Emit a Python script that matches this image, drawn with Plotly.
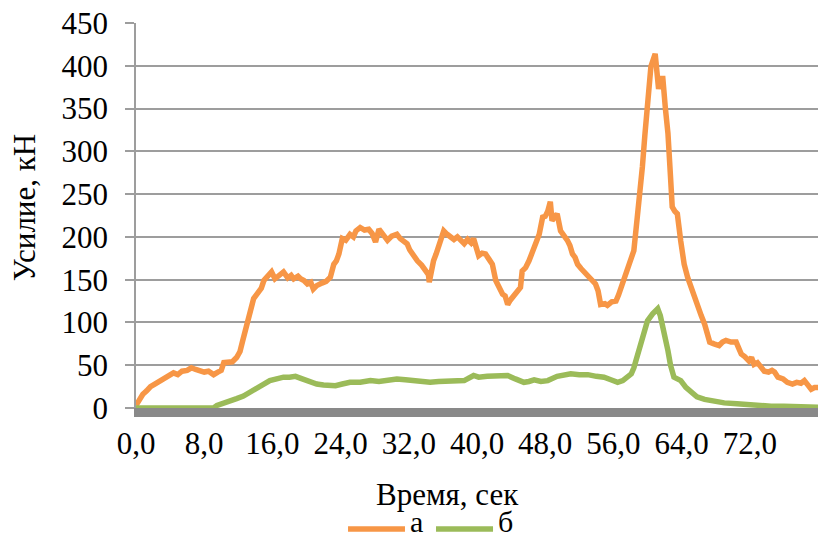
import plotly.graph_objects as go

# --- data ---
orange_t = [0.0, 0.4, 0.8, 1.25, 1.7, 2.2, 2.8, 3.3, 3.8, 4.4, 4.9, 5.4, 6.0, 6.5, 7.0, 7.5, 8.0, 8.5, 9.1, 9.6,
            10.0, 10.3, 10.8, 11.3, 11.8, 12.2, 12.5, 12.8, 13.1, 13.4, 13.8, 14.1, 14.4, 14.7, 15.0, 15.4, 15.9,
            16.3, 16.8, 17.3, 17.8, 18.2, 18.5, 19.0, 19.3, 19.7, 20.1, 20.5, 20.8, 21.2, 21.8, 22.3, 22.8, 23.2,
            23.5, 23.8, 24.2, 24.6, 25.1, 25.5, 25.8, 26.3, 26.8, 27.3, 27.7, 28.1, 28.5, 28.9, 29.2, 29.5, 30.0,
            30.6, 31.0, 31.4, 31.8, 32.1, 32.4, 32.7, 33.0, 33.5, 34.0, 34.3, 34.4, 34.6, 34.9, 35.2, 35.5, 35.8,
            36.1, 36.5, 36.9, 37.3, 37.7, 38.1, 38.5, 38.9, 39.3, 39.6, 39.9, 40.2, 40.6, 41.0, 41.4, 41.8, 42.2,
            42.6, 43.0, 43.3, 43.6, 43.9, 44.3, 44.7, 45.1, 45.3, 45.7, 46.1, 46.4, 46.7, 47.0, 47.3, 47.7, 48.0,
            48.3, 48.6, 48.8, 49.1, 49.4, 49.8, 50.2, 50.6, 50.9, 51.2, 51.5, 51.8, 52.2, 52.8, 53.3, 53.9, 54.2,
            54.5, 55.0, 55.3, 55.8, 56.3, 56.6, 56.9, 57.3, 57.7, 58.0, 58.4, 58.8, 59.1, 59.4, 59.7, 60.0, 60.4,
            60.9, 61.1, 61.3, 61.6, 61.8, 62.1, 62.4, 62.7, 62.9, 63.2, 63.5, 63.9, 64.3, 64.7, 65.1, 65.5, 65.9,
            66.3, 66.7, 67.0, 67.3, 67.8, 68.4, 68.8, 69.2, 69.8, 70.4, 70.7, 71.0, 71.4, 71.9, 72.2, 72.5, 72.9,
            73.3, 73.7, 74.2, 74.6, 74.9, 75.3, 75.9, 76.4, 77.0, 77.5, 78.0, 78.4, 78.8, 79.2, 79.6, 80.0]
orange_v = [3, 10, 16, 20, 25, 28, 32, 34, 38, 41, 39, 43, 44, 47, 45, 44, 42, 43, 39, 42,
            44, 53, 53, 54, 59, 66, 78, 90, 104, 118, 128, 132, 137, 140, 149, 153, 159,
            151, 155, 159, 152, 155, 151, 154, 151, 149, 145, 147, 139, 143, 146, 148, 153, 168,
            172, 180, 198, 196, 203, 200, 207, 211, 208, 209, 204, 194, 209, 204, 200, 196, 201,
            203, 198, 195, 192, 185, 180, 178, 172, 167, 161, 156, 147, 160, 172, 180, 188, 200,
            207, 203, 200, 197, 200, 196, 192, 197, 193, 198, 190, 178, 181, 180, 174, 168, 149,
            140, 133, 131, 121, 126, 131, 134, 141, 160, 164, 172, 179, 188, 192, 203, 223, 224,
            230, 241, 219, 222, 227, 207, 202, 196, 190, 180, 176, 168, 163, 157, 152, 145, 137,
            121, 122, 120, 124, 125, 132, 141, 152, 164, 171, 184, 223, 250, 282, 320, 360, 399,
            414, 395, 373, 385, 385, 350, 321, 270, 235, 230, 227, 195, 168, 153, 141, 128, 118,
            108, 98, 85, 77, 75, 73, 77, 79, 77, 77, 70, 63, 60, 55, 59, 51, 53,
            47, 43, 42, 44, 42, 36, 34, 30, 28, 30, 29, 32, 27, 22, 24, 24]

green_t = [0.0, 9.1, 9.5, 10.2, 11.0, 11.8, 12.6, 13.4, 14.2, 15.0, 15.7, 16.5, 17.3, 18.0, 18.7, 19.5, 20.4,
           21.2, 22.0, 22.7, 23.4, 24.2, 25.1, 26.3, 27.5, 28.5, 29.5, 30.6, 31.6, 32.6, 33.5, 34.5, 35.5,
           36.9, 38.5, 39.6, 40.2, 41.2, 42.4, 43.6, 44.5, 45.5, 46.1, 46.7, 47.5, 48.3, 49.4, 50.2, 51.0,
           52.0, 53.0, 54.0, 54.9, 55.7, 56.5, 57.1, 57.7, 58.1, 58.4, 58.7, 59.0, 59.5, 60.0, 60.6, 61.2,
           61.5, 61.8, 62.1, 62.4, 62.7, 63.1, 63.5, 63.9, 64.5, 65.1, 65.8, 66.7, 67.8, 69.0, 70.5, 72.5,
           74.5, 76.0, 78.0, 80.0]
green_v = [0, 0, 3, 5, 8, 11, 14, 19, 24, 28, 32, 34, 36, 36, 37, 34, 30,
           28, 27, 27, 26, 28, 30, 30, 32, 31, 33, 34, 33, 32, 32, 30, 31,
           31, 32, 38, 36, 37, 37, 38, 34, 30, 31, 33, 31, 32, 37, 38, 40,
           39, 39, 37, 36, 33, 30, 32, 36, 40, 47, 58, 71, 88, 102, 110, 116,
           108, 96, 82, 67, 50, 36, 34, 32, 24, 18, 13, 10, 8, 6, 5, 3,
           2, 2, 1, 1]

x_tick_vals = [0, 8, 16, 24, 32, 40, 48, 56, 64, 72]
x_tick_text = ["0,0", "8,0", "16,0", "24,0", "32,0", "40,0", "48,0", "56,0", "64,0", "72,0"]
y_tick_vals = [0, 50, 100, 150, 200, 250, 300, 350, 400, 450]
series_names = ["а", "б"]
series_colors = ["#F79646", "#9BBB59"]

FONT = "Liberation Serif"
GRID = "#9d9d9d"
FS = 31

fig = go.Figure()
fig.add_trace(go.Scatter(x=orange_t, y=orange_v, mode="lines", name=series_names[0],
                         line=dict(color=series_colors[0], width=5.5)))
fig.add_trace(go.Scatter(x=green_t, y=green_v, mode="lines", name=series_names[1],
                         line=dict(color=series_colors[1], width=5.5)))

# legend drawn at the bottom (long line samples like the reference)
leg_y = -0.3143
leg_items = [(0.3109, 0.3944, 0.4003), (0.4399, 0.5235, 0.5293)]
shapes = []
annotations = []
for (x0, x1, xt), name, col in zip(leg_items, series_names, series_colors):
    shapes.append(dict(type="line", xref="paper", yref="paper", x0=x0, x1=x1, y0=leg_y, y1=leg_y,
                       line=dict(color=col, width=5.5)))
    annotations.append(dict(text=name, xref="paper", yref="paper", x=xt, y=leg_y, xanchor="left",
                            yanchor="middle", yshift=8, borderpad=0, showarrow=False,
                            font=dict(family=FONT, size=30)))

annotations += [
    dict(text="Время, сек", xref="paper", yref="paper", x=0.457, y=0, xanchor="center",
         yanchor="middle", yshift=-86, showarrow=False, font=dict(family=FONT, size=FS)),
    dict(text="Усилие, кН", xref="paper", yref="paper", x=0, y=0.519, xanchor="center",
         yanchor="middle", xshift=-112, textangle=-90, showarrow=False,
         font=dict(family=FONT, size=FS)),
]

fig.update_layout(
    width=818, height=542,
    margin=dict(l=136, r=0, t=23, b=134),
    paper_bgcolor="white", plot_bgcolor="white",
    font=dict(family=FONT, size=FS, color="black"),
    showlegend=False,
    xaxis=dict(range=[0, 80], tickvals=x_tick_vals, ticktext=x_tick_text,
               showgrid=False, zeroline=False, showline=True, linecolor="#898989", linewidth=9,
               ticks="", ticklabelstandoff=0, tickfont=dict(family=FONT, size=FS)),
    yaxis=dict(range=[0, 450], tickvals=y_tick_vals, showgrid=True, gridcolor=GRID, gridwidth=1.5,
               zeroline=False, showline=True, linecolor=GRID, linewidth=1.5,
               ticks="outside", ticklen=9, tickcolor=GRID, tickwidth=1.5,
               ticklabelstandoff=11, tickfont=dict(family=FONT, size=FS)),
    shapes=shapes,
    annotations=annotations,
)

fig.write_html("out.html", config={"displayModeBar": False},
               post_script="document.body.style.margin='0';document.body.style.overflow='hidden';")
